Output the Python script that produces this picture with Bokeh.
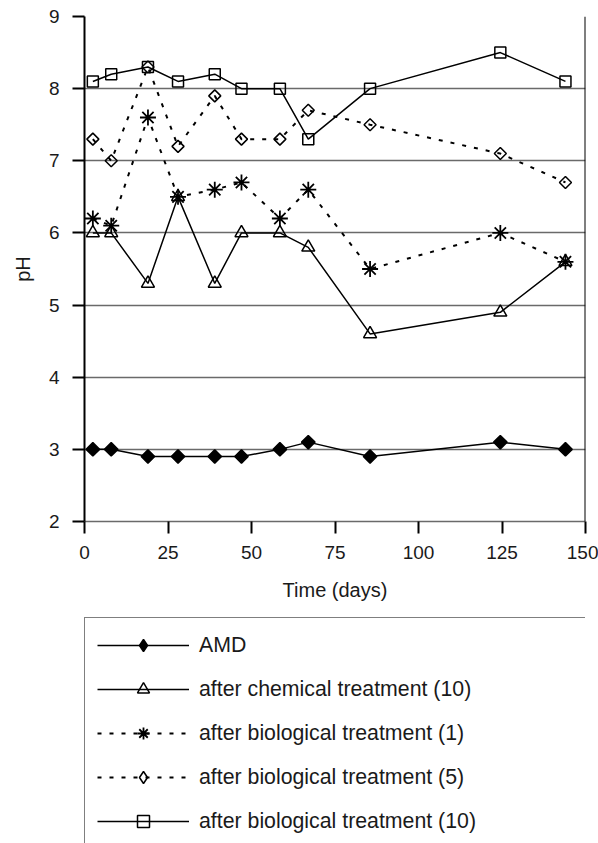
import math
from bokeh.plotting import figure
from bokeh.layouts import column
from bokeh.models import Range1d, FixedTicker, Legend, LegendItem, Span
from bokeh.embed import file_html
from bokeh.resources import INLINE

# ---- data ----
days = [2.5, 8, 19, 28, 39, 47, 58.5, 67, 85.5, 124.5, 144]
amd = [3.0, 3.0, 2.9, 2.9, 2.9, 2.9, 3.0, 3.1, 2.9, 3.1, 3.0]
chem10 = [6.0, 6.0, 5.3, 6.5, 5.3, 6.0, 6.0, 5.8, 4.6, 4.9, 5.6]
bio1 = [6.2, 6.1, 7.6, 6.5, 6.6, 6.7, 6.2, 6.6, 5.5, 6.0, 5.6]
bio5 = [7.3, 7.0, 8.3, 7.2, 7.9, 7.3, 7.3, 7.7, 7.5, 7.1, 6.7]
bio10 = [8.1, 8.2, 8.3, 8.1, 8.2, 8.0, 8.0, 7.3, 8.0, 8.5, 8.1]
series_labels = ["AMD", "after chemical treatment (10)",
                 "after biological treatment (1)", "after biological treatment (5)",
                 "after biological treatment (10)"]
x_ticks = [0, 25, 50, 75, 100, 125, 150]
y_ticks = [2, 3, 4, 5, 6, 7, 8, 9]

FONT = "Liberation Sans"

p = figure(width=598, height=610, x_range=Range1d(0, 150), y_range=Range1d(2, 9),
           output_backend="svg", toolbar_location=None,
           min_border_left=84, min_border_right=13, min_border_top=16,
           min_border_bottom=89, background_fill_color="white",
           border_fill_color="white")
p.outline_line_color = None
p.xgrid.visible = False
p.ygrid.ticker = FixedTicker(ticks=y_ticks)
p.ygrid.grid_line_color = "#6a6a6a"
p.ygrid.grid_line_width = 1.6

for ax, ticks in ((p.xaxis, x_ticks), (p.yaxis, y_ticks)):
    ax.ticker = FixedTicker(ticks=ticks)
    ax.major_tick_out = 12
    ax.major_tick_in = 0
    ax.minor_tick_out = 0
    ax.minor_tick_in = 0
    ax.major_tick_line_color = "black"
    ax.major_tick_line_width = 2
    ax.major_label_text_font = FONT
    ax.major_label_text_font_size = "19px"
    ax.major_label_text_color = "#1a1a1a"
    ax.axis_label_text_font = FONT
    ax.axis_label_text_font_size = "20px"
    ax.axis_label_text_font_style = "normal"
    ax.axis_label_text_color = "#1a1a1a"

p.xaxis.axis_label = "Time (days)"
p.xaxis.major_label_standoff = 12
p.xaxis.axis_label_standoff = 17
p.xaxis.axis_line_color = "#6a6a6a"
p.xaxis.axis_line_width = 1.6
p.yaxis.axis_label = "pH"
p.yaxis.major_label_standoff = 13
p.yaxis.axis_label_standoff = 12
p.yaxis.axis_line_color = "black"
p.yaxis.axis_line_width = 2

p.add_layout(Span(location=150, dimension="height", line_color="black", line_width=2))

series = [amd, chem10, bio1, bio5, bio10]
styles = [
    dict(marker="square", angle=math.pi / 4, size=9.5, fill="black", dash="solid", lw=1.5, leg="diamond"),
    dict(marker="triangle", angle=0, size=13, fill=None, dash="solid", lw=1.5, leg="triangle"),
    dict(marker="asterisk", angle=0, size=16, fill=None, dash="4 8", lw=2, leg="asterisk"),
    dict(marker="square", angle=math.pi / 4, size=8.5, fill=None, dash="4 8", lw=2, leg="diamond"),
    dict(marker="square", angle=0, size=11, fill=None, dash="solid", lw=1.5, leg="square"),
]

# legend host figure (no axes); its legend glyphs come from the same series
p2 = figure(width=598, height=233, x_range=Range1d(0, 150), y_range=Range1d(2, 9),
            output_backend="svg", toolbar_location=None,
            min_border_left=0, min_border_right=0, min_border_top=0, min_border_bottom=0,
            background_fill_color="white", border_fill_color="white")
p2.axis.visible = False
p2.grid.visible = False
p2.outline_line_color = None

items = []
for ys, st, lab in zip(series, styles, series_labels):
    mw = 1.8 if st["marker"] == "asterisk" else 1.5
    p.line(days, ys, line_color="black", line_width=st["lw"], line_dash=st["dash"])
    p.scatter(days, ys, marker=st["marker"], angle=st["angle"], size=st["size"],
              line_color="black", line_width=mw, fill_color=st["fill"])
    lr = p2.line(days, ys, line_color="black", line_width=st["lw"], line_dash=st["dash"],
                 visible=False)
    mr = p2.scatter(days, ys, marker=st["leg"], size=st["size"], line_color="black",
                    line_width=mw, fill_color=st["fill"], visible=False)
    items.append(LegendItem(label=lab, renderers=[lr, mr]))

legend = Legend(items=items, location=(0, -6), orientation="vertical",
                glyph_width=92, glyph_height=30, label_height=30, label_width=480,
                label_standoff=10, padding=12, spacing=14, margin=0,
                border_line_color="black", border_line_width=1.6,
                background_fill_color="white", background_fill_alpha=1,
                inactive_fill_alpha=0,
                label_text_font=FONT, label_text_font_size="21.3px",
                label_text_color="#1a1a1a")
p2.add_layout(legend)

layout = column(p, p2, spacing=0)
open("out.html", "w").write(file_html(layout, INLINE))
